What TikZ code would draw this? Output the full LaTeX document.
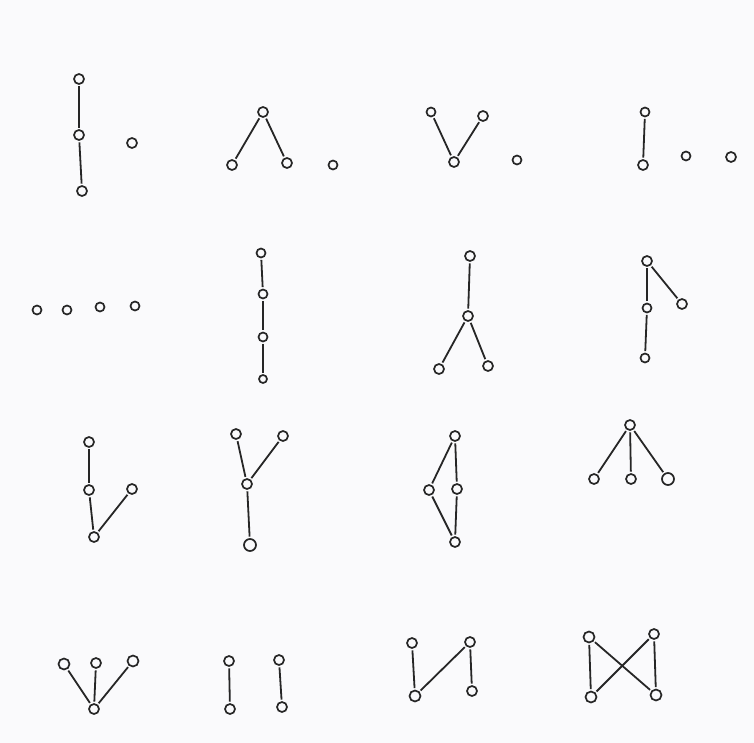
\documentclass[tikz,border=0pt]{standalone}
\usepackage{tikz}

\begin{document}
\begin{tikzpicture}[
    x=1pt, y=-1pt,
    vtx/.style={draw=black!85, circle, line width=1.7pt, minimum size=10pt, inner sep=0pt},
    edge/.style={draw=black!85, line width=1.8pt, shorten <=1.5pt, shorten >=1.5pt}
]

% Page
\useasboundingbox[fill={rgb,255:red,250;green,250;blue,252}] (0,0) rectangle (754,743);

% Row 1: chain of three + point
\node[vtx] (a1) at (79,79) {};
\node[vtx] (a2) at (79,135) {};
\node[vtx] (a3) at (82,191) {};
\node[vtx] (a4) at (132,143) {};
\draw[edge] (a1) -- (a2);
\draw[edge] (a2) -- (a3);

% Row 1: wedge + point
\node[vtx] (b1) at (263,112) {};
\node[vtx] (b2) at (232,165) {};
\node[vtx] (b3) at (287,163) {};
\node[vtx, minimum size=9pt] (b4) at (333,165) {};
\draw[edge] (b1) -- (b2);
\draw[edge] (b1) -- (b3);

% Row 1: vee + point
\node[vtx, minimum size=9pt] (c1) at (431,112) {};
\node[vtx] (c2) at (483,116) {};
\node[vtx] (c3) at (454,162) {};
\node[vtx, minimum size=9pt] (c4) at (517,160) {};
\draw[edge] (c1) -- (c3);
\draw[edge] (c2) -- (c3);

% Row 1: edge + two points
\node[vtx, minimum size=9pt] (d1) at (645,112) {};
\node[vtx] (d2) at (643,165) {};
\node[vtx, minimum size=9pt] (d3) at (686,156) {};
\node[vtx] (d4) at (731,157) {};
\draw[edge] (d1) -- (d2);

% Row 2: four points
\node[vtx, minimum size=9pt] (e1) at (37,310) {};
\node[vtx, minimum size=9pt] (e2) at (67,310) {};
\node[vtx, minimum size=9pt] (e3) at (100,307) {};
\node[vtx, minimum size=9pt] (e4) at (135,306) {};

% Row 2: chain of four
\node[vtx, minimum size=9pt] (f1) at (261,253) {};
\node[vtx, minimum size=9pt] (f2) at (263,294) {};
\node[vtx, minimum size=9pt] (f3) at (263,337) {};
\node[vtx, minimum size=8pt] (f4) at (263,379) {};
\draw[edge] (f1) -- (f2);
\draw[edge] (f2) -- (f3);
\draw[edge] (f3) -- (f4);

% Row 2: top over wedge
\node[vtx] (g1) at (470,256) {};
\node[vtx] (g2) at (468,316) {};
\node[vtx] (g3) at (439,369) {};
\node[vtx] (g4) at (488,366) {};
\draw[edge] (g1) -- (g2);
\draw[edge] (g2) -- (g3);
\draw[edge] (g2) -- (g4);

% Row 2: chain of three + side point
\node[vtx] (h1) at (647,261) {};
\node[vtx] (h2) at (682,304) {};
\node[vtx, minimum size=9pt] (h3) at (647,308) {};
\node[vtx, minimum size=9pt] (h4) at (645,358) {};
\draw[edge] (h1) -- (h2);
\draw[edge] (h1) -- (h3);
\draw[edge] (h3) -- (h4);

% Row 3: chain of three + point below
\node[vtx] (i1) at (89,442) {};
\node[vtx] (i2) at (89,490) {};
\node[vtx] (i3) at (132,489) {};
\node[vtx] (i4) at (94,537) {};
\draw[edge] (i1) -- (i2);
\draw[edge] (i2) -- (i4);
\draw[edge] (i3) -- (i4);

% Row 3: vee over point
\node[vtx] (j1) at (236,434) {};
\node[vtx] (j2) at (283,436) {};
\node[vtx] (j3) at (247,484) {};
\node[vtx, minimum size=12pt] (j4) at (250,545) {};
\draw[edge] (j1) -- (j3);
\draw[edge] (j2) -- (j3);
\draw[edge] (j3) -- (j4);

% Row 3: diamond
\node[vtx] (k1) at (455,436) {};
\node[vtx] (k2) at (429,490) {};
\node[vtx] (k3) at (457,489) {};
\node[vtx] (k4) at (455,542) {};
\draw[edge] (k1) -- (k2);
\draw[edge] (k1) -- (k3);
\draw[edge] (k2) -- (k4);
\draw[edge] (k3) -- (k4);

% Row 3: claw from the top
\node[vtx] (l1) at (630,425) {};
\node[vtx] (l2) at (594,479) {};
\node[vtx] (l3) at (631,479) {};
\node[vtx, minimum size=12pt] (l4) at (668,479) {};
\draw[edge] (l1) -- (l2);
\draw[edge] (l1) -- (l3);
\draw[edge] (l1) -- (l4);

% Row 4: claw from the bottom
\node[vtx, minimum size=11pt] (m1) at (64,664) {};
\node[vtx] (m2) at (96,663) {};
\node[vtx, minimum size=11pt] (m3) at (133,661) {};
\node[vtx] (m4) at (94,709) {};
\draw[edge] (m1) -- (m4);
\draw[edge] (m2) -- (m4);
\draw[edge] (m3) -- (m4);

% Row 4: two edges
\node[vtx] (n1) at (229,661) {};
\node[vtx] (n2) at (230,709) {};
\node[vtx] (n3) at (279,660) {};
\node[vtx] (n4) at (282,707) {};
\draw[edge] (n1) -- (n2);
\draw[edge] (n3) -- (n4);

% Row 4: N
\node[vtx] (o1) at (412,643) {};
\node[vtx, minimum size=11pt] (o2) at (415,696) {};
\node[vtx] (o3) at (470,642) {};
\node[vtx] (o4) at (472,691) {};
\draw[edge] (o1) -- (o2);
\draw[edge] (o2) -- (o3);
\draw[edge] (o3) -- (o4);

% Row 4: bowtie
\node[vtx, minimum size=11pt] (q1) at (589,637) {};
\node[vtx] (q2) at (654,634) {};
\node[vtx, minimum size=11pt] (q3) at (591,697) {};
\node[vtx, minimum size=11pt] (q4) at (656,695) {};
\draw[edge] (q1) -- (q3);
\draw[edge] (q1) -- (q4);
\draw[edge] (q2) -- (q3);
\draw[edge] (q2) -- (q4);

\end{tikzpicture}
\end{document}
